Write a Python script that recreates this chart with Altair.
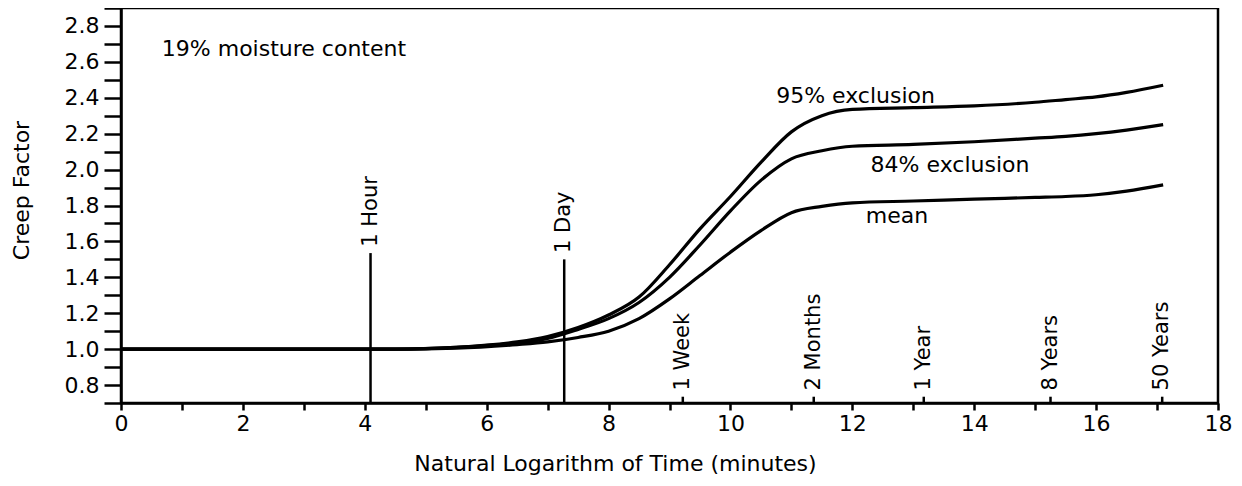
import math
import altair as alt
import pandas as pd

# ---- data ----
ln_time = [0, 4.5, 5.5, 6.5, 7.0, 7.5, 8.0, 8.5, 9.0, 9.5, 10.0, 10.5, 11.0, 11.5,
           12.0, 13.0, 14.0, 15.0, 15.5, 16.0, 16.5, 17.1]
excl95 = [1.0, 1.0, 1.01, 1.04, 1.07, 1.12, 1.19, 1.29, 1.47, 1.67, 1.85, 2.04, 2.21, 2.30,
          2.335, 2.345, 2.355, 2.375, 2.39, 2.405, 2.43, 2.47]
excl84 = [1.0, 1.0, 1.01, 1.035, 1.06, 1.11, 1.17, 1.26, 1.40, 1.58, 1.77, 1.94, 2.06, 2.105,
          2.13, 2.14, 2.155, 2.175, 2.185, 2.20, 2.22, 2.25]
mean_cf = [1.0, 1.0, 1.005, 1.025, 1.04, 1.065, 1.10, 1.17, 1.28, 1.41, 1.54, 1.66, 1.76, 1.795,
           1.815, 1.825, 1.835, 1.845, 1.85, 1.86, 1.88, 1.915]

marker_labels = ["1 Hour", "1 Day", "1 Week", "2 Months", "1 Year", "8 Years", "50 Years"]
marker_minutes = [60, 1440, 10080, 86400, 525600, 4204800, 26280000]
marker_tops = [1.535, 1.50, 0.735, 0.735, 0.735, 0.735, 0.735]

note_texts = ["19% moisture content", "95% exclusion", "84% exclusion", "mean"]
note_x = [0.67, 10.75, 12.3, 12.22]
note_y = [2.632, 2.37, 1.986, 1.70]

x_ticks = list(range(0, 19))
y_ticks = [round(0.7 + 0.1 * i, 1) for i in range(23)]
FONT = "DejaVu Sans"

# ---- tables ----
rows = []
for name, vals in [("95% exclusion", excl95), ("84% exclusion", excl84), ("mean", mean_cf)]:
    for xv, yv in zip(ln_time, vals):
        rows.append({"series": name, "t": xv, "cf": yv})
curves = pd.DataFrame(rows)

markers = pd.DataFrame({
    "label": marker_labels,
    "t": [math.log(m) for m in marker_minutes],
    "base": [0.7] * len(marker_labels),
    "top": marker_tops,
})
markers["label_y"] = markers["top"] + 0.035

notes = pd.DataFrame({"text": note_texts, "t": note_x, "cf": note_y})

xscale = alt.Scale(domain=[0, 18], nice=False, zero=False)
yscale = alt.Scale(domain=[0.7, 2.9], nice=False, zero=False)

xaxis = alt.Axis(
    values=x_ticks, tickCount=40, format="d",
    labelExpr="datum.value % 2 == 0 ? datum.label : ''",
    title="Natural Logarithm of Time (minutes)",
    titleX=494, titleY=67, titleBaseline="alphabetic", titleAlign="center",
    tickSize=7, labelPadding=3, labelFlush=False, labelOverlap=False,
    grid=False,
)
yaxis = alt.Axis(
    values=y_ticks, tickCount=40,
    labelExpr="round(datum.value * 10) % 2 == 0 ? format(datum.value, '.1f') : ''",
    title="Creep Factor",
    titleX=-88, titleY=182, titleAngle=270, titleBaseline="bottom", titleAlign="center",
    tickSize=17, labelPadding=5, labelOverlap=False, labelFlush=False, grid=False,
)

lines = alt.Chart(curves).mark_line(color="black", strokeWidth=3.2, interpolate="monotone").encode(
    x=alt.X("t:Q", scale=xscale, axis=xaxis),
    y=alt.Y("cf:Q", scale=yscale, axis=yaxis),
    detail="series:N",
)

rules = alt.Chart(markers).mark_rule(color="black", strokeWidth=2.5).encode(
    x=alt.X("t:Q", scale=xscale),
    y=alt.Y("base:Q", scale=yscale),
    y2="top:Q",
)

marker_text = alt.Chart(markers).mark_text(
    angle=270, align="left", baseline="middle", font=FONT, fontSize=21, color="black"
).encode(
    x=alt.X("t:Q", scale=xscale),
    y=alt.Y("label_y:Q", scale=yscale),
    text="label:N",
)

note_text = alt.Chart(notes).mark_text(
    align="left", baseline="alphabetic", font=FONT, fontSize=22, color="black"
).encode(
    x=alt.X("t:Q", scale=xscale),
    y=alt.Y("cf:Q", scale=yscale),
    text="text:N",
)

chart = alt.layer(lines, rules, marker_text, note_text).properties(
    width=1097, height=395,
    autosize=alt.AutoSizeParams(type="none"),
    padding={"left": 113, "top": 0, "right": 16, "bottom": 72},
    background="white",
).configure_view(
    stroke="black", strokeWidth=2.5
).configure_axis(
    domainColor="black", domainWidth=2.5, tickColor="black", tickWidth=2.5,
    labelFont=FONT, labelFontSize=22, labelColor="black",
    titleFont=FONT, titleFontSize=22, titleFontWeight="normal", titleColor="black",
)

chart.save("out.html", embed_options={"renderer": "svg", "actions": False})
